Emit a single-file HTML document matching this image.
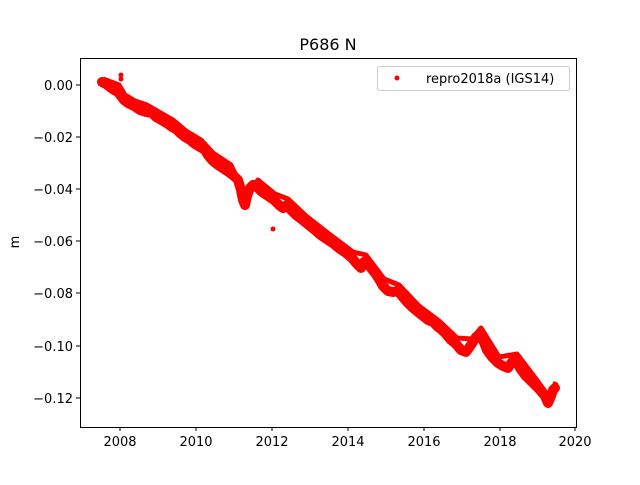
<!DOCTYPE html>
<html><head><meta charset="utf-8"><style>
body{margin:0;background:#fff;}
text{font-family:"DejaVu Sans","Liberation Sans",sans-serif;font-size:13px;fill:#000;}
</style></head><body>
<svg width="640" height="480" viewBox="0 0 640 480" xmlns="http://www.w3.org/2000/svg">
<rect width="640" height="480" fill="#fff"/>
<text x="328" y="50" text-anchor="middle" style="font-size:16px">P686 N</text>
<polyline fill="none" stroke="#f00" stroke-width="10" stroke-linejoin="round" stroke-linecap="round" points="102,82 106,84 110,87 114,90 118,92 121,96 124,100 128,103 134,106 140,110 146,112 152,113 156,117 158,118 163,121 168,124 172,127 176,129 180,133 185,137 190,140 195,144 200,147 205,150 208,155 212,160 218,165 224,169 230,173 234,176 238,180 241,190 243,200 245,205 247,196 250,188 253,185 257,187 262,192 268,196 274,200 279,205 283,208 287,205 291,210 296,215 300,218 305,222 310,226 316,231 322,236 328,240 334,244 340,249 346,253 352,258 357,264 361,268 364,262 367,262 371,268 375,273 379,279 383,286 388,291 393,292 398,291 402,296 407,302 412,307 418,312 423,316 428,320 433,322 438,327 442,330 446,334 451,340 456,344 461,350 466,352 471,345 476,337 480,334 483,340 487,350 492,357 498,363 503,366 508,368 512,362 516,360 520,368 525,375 530,380 535,385 540,390 545,396 548,403 551,396 553,390 555,388"/>
<polyline fill="none" stroke="#f00" stroke-width="5" stroke-linejoin="round" transform="translate(1,-3)" points="102,82 110,85 118,88 124,98 134,104 146,108 158,115 172,123 185,134 200,143 212,156 230,168 245,200 257,183 274,197 287,202 305,219 328,237 352,255 365,258 383,282 398,288 418,309 438,324 456,341 471,342 480,331 498,360 516,357 535,382 548,400 555,385"/>
<circle cx="121" cy="75" r="2.5" fill="#f00"/>
<circle cx="121" cy="79" r="2.5" fill="#f00"/>
<circle cx="273" cy="229" r="2.5" fill="#f00"/>
<rect x="80.5" y="58.5" width="496" height="369" fill="none" stroke="#000" stroke-width="1"/>
<g stroke="#000" stroke-width="1">
<line x1="120" y1="427" x2="120" y2="431"/><line x1="196" y1="427" x2="196" y2="431"/><line x1="272" y1="427" x2="272" y2="431"/><line x1="348" y1="427" x2="348" y2="431"/><line x1="424" y1="427" x2="424" y2="431"/><line x1="500" y1="427" x2="500" y2="431"/><line x1="575" y1="427" x2="575" y2="431"/>
<line x1="76" y1="85" x2="80" y2="85"/><line x1="76" y1="137" x2="80" y2="137"/><line x1="76" y1="189" x2="80" y2="189"/><line x1="76" y1="241" x2="80" y2="241"/><line x1="76" y1="293" x2="80" y2="293"/><line x1="76" y1="346" x2="80" y2="346"/><line x1="76" y1="398" x2="80" y2="398"/>
</g>
<g text-anchor="middle">
<text x="120" y="446">2008</text><text x="196" y="446">2010</text><text x="272" y="446">2012</text><text x="348" y="446">2014</text><text x="424" y="446">2016</text><text x="500" y="446">2018</text><text x="575" y="446">2020</text>
</g>
<g text-anchor="end">
<text x="73" y="90">0.00</text><text x="73" y="142">−0.02</text><text x="73" y="194">−0.04</text><text x="73" y="246">−0.06</text><text x="73" y="298">−0.08</text><text x="73" y="351">−0.10</text><text x="73" y="403">−0.12</text>
</g>
<text x="19" y="242" text-anchor="middle" transform="rotate(-90 19 242)">m</text>
<rect x="377.5" y="66.5" width="192" height="24" rx="2" fill="#fff" stroke="#ccc"/>
<circle cx="397" cy="78" r="2.5" fill="#f00"/>
<text x="426" y="83">repro2018a (IGS14)</text>
</svg>
</body></html>
